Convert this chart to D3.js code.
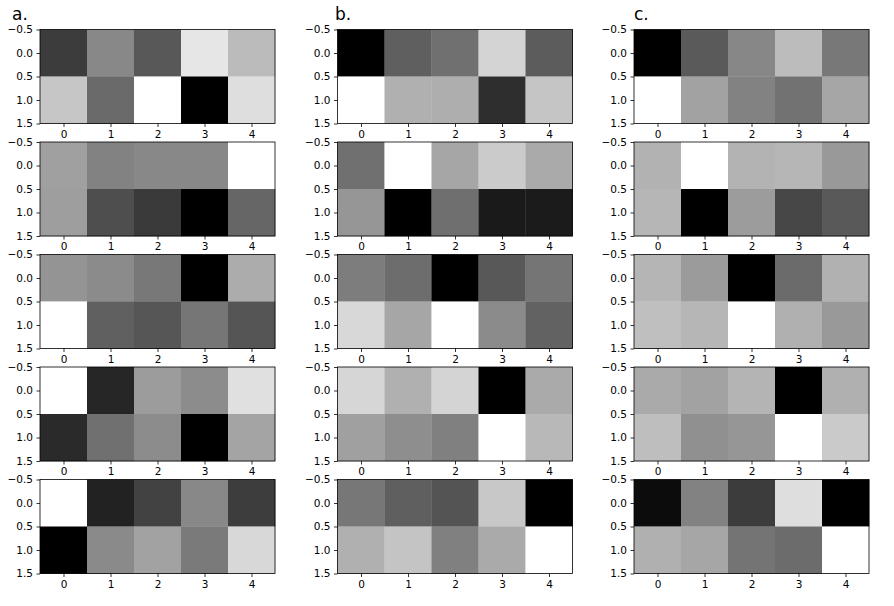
<!DOCTYPE html>
<html lang="en">
<head>
  <meta charset="UTF-8">
  <title>heatmaps</title>
  <script src="https://cdn.jsdelivr.net/npm/d3@7"></script>
  <style>
    body { margin: 0; background: #fff; }
    svg text { font-family: 'DejaVu Sans', 'Liberation Sans', sans-serif; }
  </style>
</head>
<body>
  <svg width="894" height="606" id="main"></svg>
</body>
<script>
  // grey levels, one 2x5 matrix per panel
  const panelsA = [
    [[60, 136, 88, 230, 187], [198, 106, 255, 0, 222]],
    [[160, 130, 136, 136, 255], [158, 78, 58, 0, 102]],
    [[148, 139, 120, 0, 172], [255, 96, 86, 118, 85]],
    [[255, 38, 156, 140, 224], [42, 112, 140, 0, 164]],
    [[255, 34, 66, 136, 61], [0, 138, 162, 122, 216]],
  ];
  const panelsB = [
    [[0, 95, 112, 212, 92], [255, 176, 174, 46, 197]],
    [[112, 255, 166, 203, 170], [150, 0, 111, 26, 27]],
    [[125, 109, 0, 88, 117], [216, 166, 255, 139, 98]],
    [[214, 176, 212, 0, 170], [160, 142, 128, 255, 184]],
    [[119, 95, 84, 200, 0], [176, 196, 128, 170, 255]],
  ];
  const panelsC = [
    [[0, 90, 135, 188, 120], [255, 162, 130, 114, 166]],
    [[178, 255, 179, 182, 153], [182, 0, 156, 71, 89]],
    [[181, 155, 0, 107, 177], [191, 182, 255, 176, 153]],
    [[170, 162, 180, 0, 176], [190, 144, 150, 255, 202]],
    [[12, 130, 60, 222, 0], [176, 166, 116, 108, 255]],
  ];
  const columnLabels = ['a.', 'b.', 'c.'];
  const xTicks = [0, 1, 2, 3, 4];
  const yTicks = [-0.5, 0, 0.5, 1, 1.5];

  const svg = d3.select('#main');
  const colLeft = [40, 337.5, 634];
  const rowTop = [29.5, 142, 254.5, 367, 479.5];
  const W = 235, H = 94;
  const fmt = v => d3.format('.1f')(v).replace('-', '\u2212');

  const labelPos = [[12, 20], [335, 20], [634, 20]];
  columnLabels.forEach((t, i) => {
    svg.append('text')
      .attr('x', labelPos[i][0]).attr('y', labelPos[i][1])
      .style('font-size', '17px')
      .text(t);
  });

  [panelsA, panelsB, panelsC].forEach((panels, ci) => {
    panels.forEach((m, ri) => {
      const g = svg.append('g')
        .attr('transform', `translate(${colLeft[ci]},${rowTop[ri]})`);
      const x = d3.scaleLinear().domain([-0.5, 4.5]).range([0, W]);
      const y = d3.scaleLinear().domain([-0.5, 1.5]).range([0, H]);
      const color = d3.scaleLinear().domain(d3.extent(m.flat())).range(['#000', '#fff']);

      const cells = [];
      m.forEach((row, r) => row.forEach((v, c) => cells.push({r, c, v})));
      g.selectAll('rect.cell')
        .data(cells)
        .enter()
        .append('rect')
        .attr('class', 'cell')
        .attr('x', d => x(d.c - 0.5))
        .attr('y', d => y(d.r - 0.5))
        .attr('width', x(1) - x(0) + 0.3)
        .attr('height', y(1) - y(0) + 0.3)
        .attr('fill', d => color(d.v));

      // frame
      g.append('rect')
        .attr('width', W).attr('height', H)
        .attr('fill', 'none').attr('stroke', '#000').attr('stroke-width', 0.8);

      const xAxis = g.append('g')
        .attr('transform', `translate(0,${H})`)
        .call(d3.axisBottom(x).tickValues(xTicks).tickSize(3.5).tickPadding(3.5).tickFormat(d3.format('d')));
      const yAxis = g.append('g')
        .call(d3.axisLeft(y).tickValues(yTicks).tickSize(3.5).tickPadding(3.5).tickFormat(fmt));
      [xAxis, yAxis].forEach(a => {
        a.attr('font-family', null).attr('font-size', null);
        a.select('.domain').remove();
        a.selectAll('line').attr('stroke', '#000').attr('stroke-width', 0.8);
        a.selectAll('text').style('font-size', '10.5px').attr('fill', '#000');
      });
    });
  });
</script>
</html>
